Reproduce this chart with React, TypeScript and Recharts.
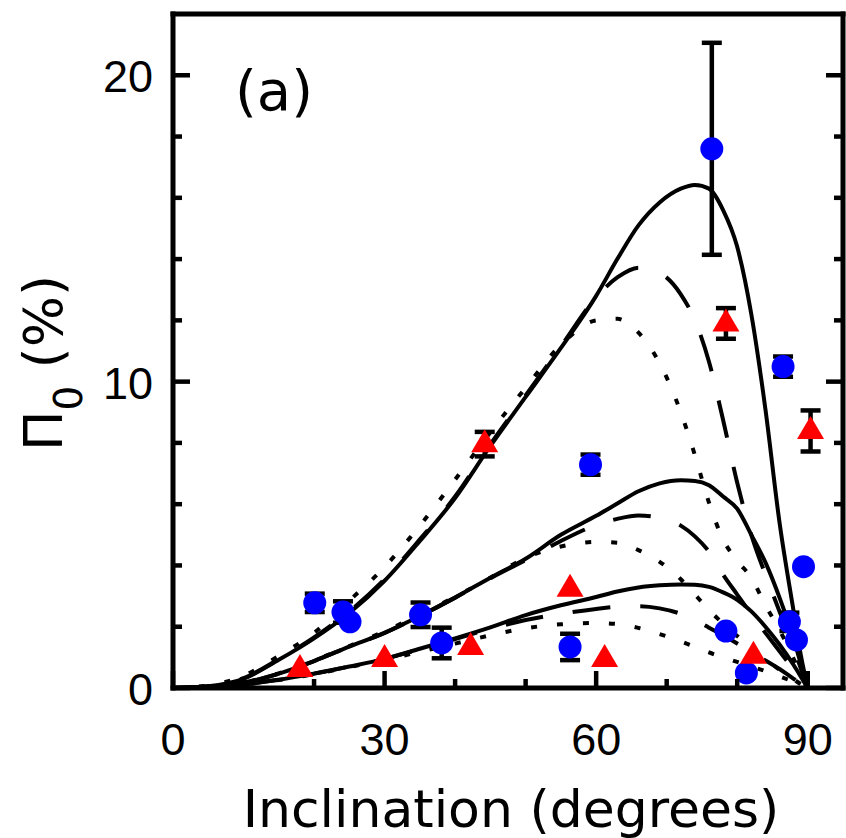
import React from 'react';
import { ComposedChart, Line, Scatter, XAxis, YAxis, ErrorBar } from 'recharts';

// ---- data ----
const curveX = [0, 5, 10, 15, 20, 25, 30, 35, 40, 45, 50, 55, 60, 63, 66, 69, 72, 74, 76, 78, 80, 82, 84, 86, 88, 89, 90];

const solidHigh = [0, 0.06, 0.3, 0.92, 1.62, 2.45, 3.5, 4.8, 6.2, 7.9, 9.5, 11.1, 12.8, 14.0, 15.1, 15.85, 16.3, 16.42, 16.3, 15.6, 14.4, 12.2, 9.1, 5.4, 2.5, 1.1, 0];
const dashedHigh = [0, 0.06, 0.32, 0.94, 1.65, 2.5, 3.55, 4.85, 6.25, 7.95, 9.55, 11.15, 12.75, 13.4, 13.72, 13.55, 12.85, 12.0, 10.65, 8.75, 6.7, 5.0, 3.7, 2.5, 1.3, 0.65, 0];
const dottedHigh = [0, 0.08, 0.4, 1.05, 1.8, 2.85, 3.95, 5.3, 6.8, 8.35, 9.8, 11.2, 12.0, 12.05, 11.6, 10.6, 9.0, 7.6, 6.05, 4.85, 4.15, 3.6, 2.7, 1.9, 0.95, 0.45, 0];

const solidMid = [0, 0.04, 0.17, 0.47, 0.88, 1.35, 1.8, 2.35, 2.95, 3.6, 4.22, 5.0, 5.62, 6.02, 6.42, 6.68, 6.78, 6.76, 6.62, 6.25, 5.85, 5.0, 4.1, 2.95, 1.6, 0.8, 0];
const dashedMid = [0, 0.04, 0.17, 0.47, 0.88, 1.35, 1.8, 2.35, 2.95, 3.58, 4.18, 4.8, 5.32, 5.52, 5.63, 5.55, 5.3, 4.95, 4.45, 3.7, 3.05, 2.4, 1.8, 1.2, 0.6, 0.3, 0];
const dottedMid = [0, 0.04, 0.18, 0.48, 0.9, 1.37, 1.85, 2.4, 2.98, 3.6, 4.25, 4.62, 4.77, 4.74, 4.5, 4.12, 3.55, 3.05, 2.55, 2.1, 1.7, 1.3, 0.95, 0.6, 0.28, 0.13, 0];

const solidLow = [0, 0.03, 0.12, 0.27, 0.47, 0.7, 0.95, 1.28, 1.62, 1.98, 2.38, 2.7, 2.97, 3.15, 3.28, 3.35, 3.38, 3.37, 3.3, 3.12, 2.88, 2.5, 2.0, 1.42, 0.75, 0.38, 0];
const dashedLow = [0, 0.03, 0.12, 0.27, 0.47, 0.7, 0.95, 1.27, 1.6, 1.93, 2.22, 2.42, 2.58, 2.65, 2.67, 2.6, 2.42, 2.22, 1.97, 1.72, 1.45, 1.16, 0.9, 0.62, 0.3, 0.15, 0];
const dottedLow = [0, 0.03, 0.11, 0.26, 0.45, 0.68, 0.92, 1.18, 1.45, 1.72, 1.95, 2.08, 2.12, 2.09, 1.96, 1.76, 1.52, 1.34, 1.16, 1.0, 0.85, 0.7, 0.55, 0.38, 0.2, 0.1, 0];

// [inclination, polarization, error]
const bluePoints = [
  [20.1, 2.78, 0.3],
  [24.1, 2.48, 0.35],
  [25.1, 2.16, 0],
  [35.1, 2.39, 0.4],
  [38.1, 1.47, 0.5],
  [56.3, 1.34, 0.43],
  [59.2, 7.29, 0.33],
  [76.4, 17.6, 3.46],
  [78.4, 1.86, 0],
  [81.3, 0.49, 0],
  [86.5, 10.49, 0.33],
  [87.4, 2.16, 0.3],
  [88.4, 1.57, 0],
  [89.4, 3.96, 0],
];

const redPoints = [
  [18.0, 0.62, 0],
  [30.0, 0.95, 0],
  [42.2, 1.34, 0],
  [44.2, 7.96, 0.4],
  [56.3, 3.24, 0],
  [61.2, 0.95, 0],
  [78.4, 11.9, 0.5],
  [82.3, 1.05, 0],
  [90.4, 8.39, 0.67],
];

const xTicks = [0, 10, 20, 30, 40, 50, 60, 70, 80, 90];
const xLabelTicks = [0, 30, 60, 90];
const yTicks = [0, 2, 4, 6, 8, 10, 12, 14, 16, 18, 20];
const yLabelTicks = [0, 10, 20];

const xTitle = 'Inclination (degrees)';
const panelTag = '(a)';

// ---- helpers ----
const toSeries = (ys: number[]) => curveX.map((x, i) => ({ x, y: ys[i] }));
const toPoints = (pts: number[][]) => pts.map(([x, y, err]) => ({ x, y, err }));

const blueData = toPoints(bluePoints);
const redData = toPoints(redPoints);

const SOLID = undefined;
const DASHED = '38 30';
const DOTTED = '6 20';

const curves = [
  { key: 'sh', ys: solidHigh, dash: SOLID },
  { key: 'dh', ys: dashedHigh, dash: DASHED },
  { key: 'ph', ys: dottedHigh, dash: DOTTED },
  { key: 'sm', ys: solidMid, dash: SOLID },
  { key: 'dm', ys: dashedMid, dash: DASHED },
  { key: 'pm', ys: dottedMid, dash: DOTTED },
  { key: 'sl', ys: solidLow, dash: SOLID },
  { key: 'dl', ys: dashedLow, dash: DASHED },
  { key: 'pl', ys: dottedLow, dash: DOTTED },
];

const TICK_FONT = '"Liberation Sans", Arial, sans-serif';
const TITLE_FONT = '"DejaVu Sans", sans-serif';
const TICK_W = 4.5;

const BottomTick = (props: any) => {
  const { x, y, payload } = props;
  const v = payload.value;
  const major = xLabelTicks.includes(v);
  return (
    <g>
      <line x1={x} x2={x} y1={y} y2={y - (major ? 17 : 9)} stroke="#000" strokeWidth={TICK_W} />
      {major && (
        <text x={x} y={y + 67} textAnchor="middle" fontSize={45} fontFamily={TICK_FONT} fill="#000">
          {v}
        </text>
      )}
    </g>
  );
};

const TopTick = (props: any) => {
  const { x, y, payload } = props;
  const major = xLabelTicks.includes(payload.value);
  return <line x1={x} x2={x} y1={y} y2={y + (major ? 17 : 9)} stroke="#000" strokeWidth={TICK_W} />;
};

const LeftTick = (props: any) => {
  const { x, y, payload } = props;
  const v = payload.value;
  const major = yLabelTicks.includes(v);
  return (
    <g>
      <line x1={x} x2={x + (major ? 17 : 9)} y1={y} y2={y} stroke="#000" strokeWidth={TICK_W} />
      {major && (
        <text x={x - 20} y={y + 17} textAnchor="end" fontSize={45} fontFamily={TICK_FONT} fill="#000">
          {v}
        </text>
      )}
    </g>
  );
};

const RightTick = (props: any) => {
  const { x, y, payload } = props;
  const major = yLabelTicks.includes(payload.value);
  return <line x1={x} x2={x - (major ? 17 : 9)} y1={y} y2={y} stroke="#000" strokeWidth={TICK_W} />;
};

const XTitle = (props: any) => {
  const vb = props.viewBox || {};
  const cx = vb.x + vb.width / 2 + 3;
  const by = vb.y + 139;
  return (
    <text x={cx} y={by} textAnchor="middle" fontSize={52} fontFamily={TITLE_FONT} fill="#000">
      {xTitle}
    </text>
  );
};

const YTitle = (props: any) => {
  const vb = props.viewBox || {};
  const bx = vb.x - 51;
  const cy = vb.y + vb.height / 2 + 12;
  return (
    <text
      x={bx}
      y={cy}
      transform={`rotate(-90, ${bx}, ${cy})`}
      textAnchor="middle"
      fontSize={54}
      fontFamily={TITLE_FONT}
      fill="#000"
    >
      <tspan>Π</tspan>
      <tspan fontSize={39} dy={20}>0</tspan>
      <tspan dy={-20}> (%)</tspan>
    </text>
  );
};

const BlueDot = (p: any) => <circle cx={p.cx} cy={p.cy} r={11.5} fill="#0000ff" />;
const RedTri = (p: any) => (
  <polygon
    points={`${p.cx},${p.cy - 15} ${p.cx + 13.5},${p.cy + 8} ${p.cx - 13.5},${p.cy + 8}`}
    fill="#ff0000"
  />
);

const axisStroke = { stroke: '#000', strokeWidth: 5, strokeLinecap: 'square' as const };

export default function App() {
  return (
    <div style={{ position: 'absolute', left: 0, top: 0, width: 846, height: 838, background: '#fff' }}>
      <ComposedChart width={846} height={838} margin={{ top: 13, right: 2, bottom: 90, left: 113 }}>
        <XAxis
          xAxisId={0}
          type="number"
          dataKey="x"
          domain={[0, 95]}
          ticks={xTicks}
          interval={0}
          height={60}
          tickSize={0}
          tickMargin={0}
          tickLine={false}
          axisLine={axisStroke}
          tick={BottomTick}
          allowDataOverflow
          label={<XTitle />}
        />
        <XAxis
          xAxisId="top"
          orientation="top"
          type="number"
          domain={[0, 95]}
          ticks={xTicks}
          interval={0}
          height={1}
          tickSize={0}
          tickMargin={0}
          tickLine={false}
          axisLine={axisStroke}
          tick={TopTick}
          allowDataOverflow
        />
        <YAxis
          yAxisId={0}
          type="number"
          dataKey="y"
          domain={[0, 22]}
          ticks={yTicks}
          interval={0}
          width={60}
          tickSize={0}
          tickMargin={0}
          tickLine={false}
          axisLine={axisStroke}
          tick={LeftTick}
          allowDataOverflow
          label={<YTitle />}
        />
        <YAxis
          yAxisId="right"
          orientation="right"
          type="number"
          domain={[0, 22]}
          ticks={yTicks}
          interval={0}
          width={1}
          tickSize={0}
          tickMargin={0}
          tickLine={false}
          axisLine={axisStroke}
          tick={RightTick}
          allowDataOverflow
        />
        {curves.map((c) => (
          <Line
            key={c.key}
            data={toSeries(c.ys)}
            dataKey="y"
            type="monotone"
            stroke="#000"
            strokeWidth={4}
            strokeDasharray={c.dash}
            dot={false}
            activeDot={false}
            isAnimationActive={false}
          />
        ))}
        <Scatter data={blueData} dataKey="y" shape={BlueDot} isAnimationActive={false}>
          <ErrorBar dataKey="err" direction="y" width={10} stroke="#000" strokeWidth={4.5} isAnimationActive={false} />
        </Scatter>
        <Scatter data={redData} dataKey="y" shape={RedTri} isAnimationActive={false}>
          <ErrorBar dataKey="err" direction="y" width={10} stroke="#000" strokeWidth={4.5} isAnimationActive={false} />
        </Scatter>
      </ComposedChart>
      <svg
        width={846}
        height={838}
        style={{ position: 'absolute', left: 0, top: 0, pointerEvents: 'none' }}
      >
        <text x={235} y={110} fontSize={56} fontFamily={TITLE_FONT} fill="#000">
          {panelTag}
        </text>
      </svg>
    </div>
  );
}
